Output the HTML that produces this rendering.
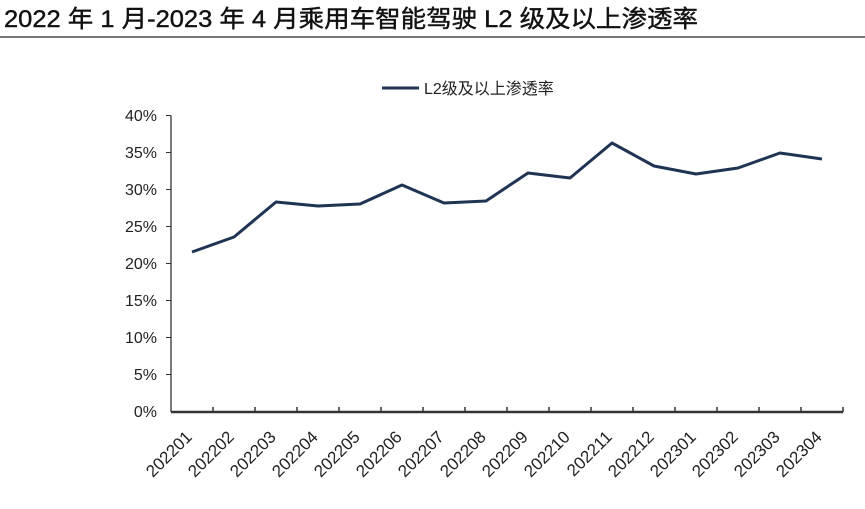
<!DOCTYPE html>
<html><head><meta charset="utf-8"><style>
body{margin:0;background:#fff;width:865px;height:504px;overflow:hidden}
svg text{font-family:"Liberation Sans","Noto Sans CJK SC",sans-serif}
</style></head><body>
<svg width="865" height="504" xmlns="http://www.w3.org/2000/svg">
<text x="4" y="27" font-size="24" fill="#111" textLength="694" lengthAdjust="spacingAndGlyphs" stroke="#111" stroke-width="0.4">2022 年 1 月-2023 年 4 月乘用车智能驾驶 L2 级及以上渗透率</text>
<rect x="0" y="36" width="865" height="2" fill="#777"/>
<line x1="382" y1="88" x2="419" y2="88" stroke="#1f3352" stroke-width="3"/>
<text x="424" y="94" font-size="16" fill="#222">L2级及以上渗透率</text>
<g stroke="#333" stroke-width="1.3">
<line x1="171" y1="115.5" x2="171" y2="412"/>
<line x1="171" y1="412" x2="843" y2="412" stroke-width="2.5"/>
</g>
<g stroke="#333" stroke-width="1">
<line x1="166" y1="115.5" x2="171" y2="115.5"/><line x1="166" y1="152.5" x2="171" y2="152.5"/><line x1="166" y1="189.5" x2="171" y2="189.5"/><line x1="166" y1="226.5" x2="171" y2="226.5"/><line x1="166" y1="263.5" x2="171" y2="263.5"/><line x1="166" y1="300.5" x2="171" y2="300.5"/><line x1="166" y1="337.5" x2="171" y2="337.5"/><line x1="166" y1="374.5" x2="171" y2="374.5"/>
</g>
<g font-size="16" fill="#222" text-anchor="end">
<text x="157" y="121">40%</text><text x="157" y="158">35%</text><text x="157" y="195">30%</text><text x="157" y="232">25%</text><text x="157" y="269">20%</text><text x="157" y="306">15%</text><text x="157" y="343">10%</text><text x="157" y="380">5%</text><text x="157" y="417">0%</text>
</g>
<path d="M213,412v-5M255,412v-5M297,412v-5M339,412v-5M381,412v-5M423,412v-5M465,412v-5M507,412v-5M549,412v-5M591,412v-5M633,412v-5M675,412v-5M717,412v-5M759,412v-5M801,412v-5M843,412v-5" stroke="#333" stroke-width="1.5"/>
<polyline fill="none" stroke="#1f3352" stroke-width="3" stroke-linejoin="round" points="192,252 234,237 276,202 318,206 360,204 402,185 444,203 486,201 528,173 570,178 612,143 654,166 696,174 738,168 780,153 822,159"/>
<g font-size="17" fill="#222" text-anchor="end">
<text transform="translate(193,438) rotate(-45)">202201</text>
<text transform="translate(235,438) rotate(-45)">202202</text>
<text transform="translate(277,438) rotate(-45)">202203</text>
<text transform="translate(319,438) rotate(-45)">202204</text>
<text transform="translate(361,438) rotate(-45)">202205</text>
<text transform="translate(403,438) rotate(-45)">202206</text>
<text transform="translate(445,438) rotate(-45)">202207</text>
<text transform="translate(487,438) rotate(-45)">202208</text>
<text transform="translate(529,438) rotate(-45)">202209</text>
<text transform="translate(571,438) rotate(-45)">202210</text>
<text transform="translate(613,438) rotate(-45)">202211</text>
<text transform="translate(655,438) rotate(-45)">202212</text>
<text transform="translate(697,438) rotate(-45)">202301</text>
<text transform="translate(739,438) rotate(-45)">202302</text>
<text transform="translate(781,438) rotate(-45)">202303</text>
<text transform="translate(823,438) rotate(-45)">202304</text>
</g>
</svg>
</body></html>
